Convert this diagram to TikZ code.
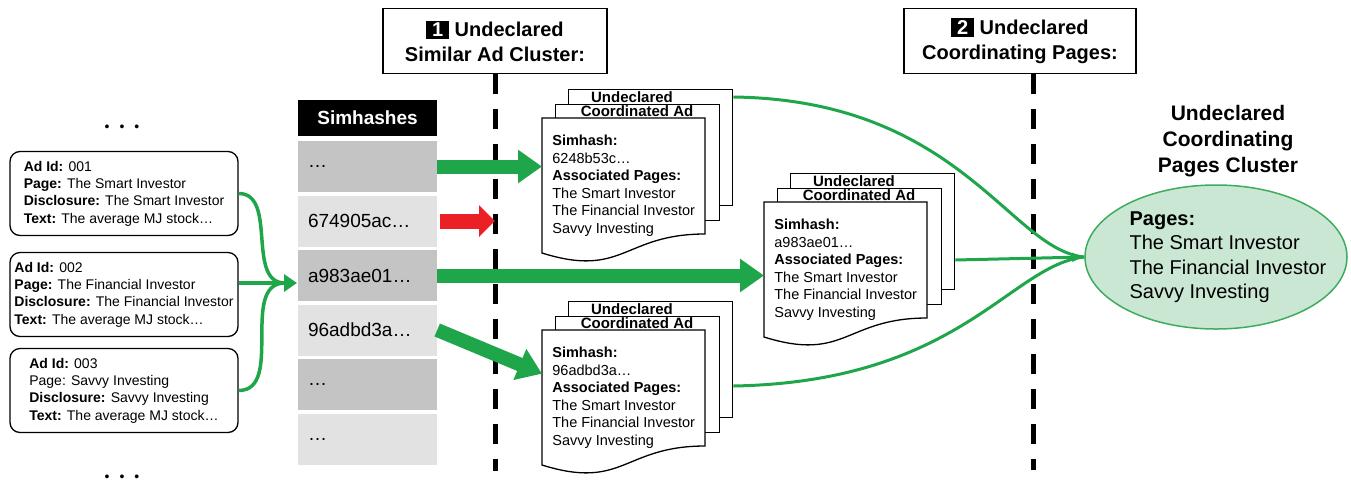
\documentclass[tikz,border=0pt]{standalone}
\usepackage{fontspec}
\setmainfont{Liberation Sans}
\usetikzlibrary{arrows.meta,shapes.geometric}
\definecolor{adgreen}{RGB}{31,166,74}
\definecolor{adred}{RGB}{235,32,38}
\definecolor{rowdark}{RGB}{196,196,196}
\definecolor{rowlight}{RGB}{226,226,226}
\definecolor{clusterfill}{RGB}{202,231,211}
\definecolor{clusterline}{RGB}{62,172,94}
\newcommand{\numbox}[1]{{\setlength{\fboxsep}{2.5pt}\colorbox{black}{\,\textcolor{white}{#1}\,}}}
\tikzset{
  adbox/.style={draw, line width=1.3pt, rounded corners=10pt, fill=white, minimum width=228pt, minimum height=84pt, align=left, font=\fontsize{14}{17.3}\selectfont},
  moredots/.style={font=\fontsize{14}{16}\selectfont},
  adlink/.style={draw=adgreen, line width=3.5pt},
  hashhead/.style={fill=black, text=white, minimum width=139pt, minimum height=36pt, font=\fontsize{19}{22}\selectfont\bfseries},
  hashrow/.style={minimum width=139pt, minimum height=51pt, text width=119pt, inner xsep=10pt, inner ysep=0pt, align=left, font=\fontsize{19}{22}\selectfont},
  titlebox/.style={draw, line width=1.2pt, fill=white, minimum width=224pt, minimum height=65pt, align=center, font=\fontsize{20}{24.5}\selectfont\bfseries},
  divider/.style={line width=5pt, dash pattern=on 20pt off 15pt},
  page/.style={draw, line width=1.3pt, fill=white, minimum width=164pt, minimum height=116pt, inner sep=0pt, anchor=north west},
  stacklabel/.style={inner sep=0pt, font=\fontsize{15}{17}\selectfont\bfseries},
  fronttext/.style={anchor=north west, minimum width=163pt, inner sep=0pt, minimum height=135pt, align=left, font=\fontsize{14.5}{17.5}\selectfont},
  hasharrow/.style={draw=adgreen, line width=14pt, -{Triangle[length=24pt,width=32pt]}},
  redarrow/.style={draw=adred, line width=15pt, -{Triangle[length=16pt,width=31pt]}},
  pglink/.style={draw=adgreen, line width=3pt},
  cluster/.style={ellipse, draw=clusterline, line width=1.5pt, fill=clusterfill, minimum width=262pt, minimum height=144pt, inner sep=0pt},
  clustertext/.style={align=left, font=\fontsize{20}{24.5}\selectfont},
  clusterlabel/.style={align=center, font=\fontsize{21}{26}\selectfont\bfseries}
}
\begin{document}
\begin{tikzpicture}[x=1pt,y=-1pt]
\useasboundingbox (0,0) rectangle (1351,483);

% ad records
\node[adbox] (ad1) at (124,193.5) {\textbf{Ad Id:} 001\\\textbf{Page:} The Smart Investor\\\textbf{Disclosure:} The Smart Investor\\\textbf{Text:} The average MJ stock…};
\node[adbox] (ad2) at (124,294.5) {\textbf{Ad Id:} 002\\\textbf{Page:} The Financial Investor\\\textbf{Disclosure:} The Financial Investor\\\textbf{Text:} The average MJ stock…};
\node[adbox] (ad3) at (124,390.5) {\textbf{Ad Id:} 003\\Page: Savvy Investing\\\textbf{Disclosure:} Savvy Investing\\\textbf{Text:} The average MJ stock…};
\node[moredots] (dotstop) at (122,128) {•\hspace{10pt}•\hspace{10pt}•};
\node[moredots] (dotsbot) at (122,478) {•\hspace{10pt}•\hspace{10pt}•};

% simhash table
\node[hashhead] (hhead) at (367.5,118) {Simhashes};
\foreach \i/\txt in {1/…,2/674905ac…,3/a983ae01…,4/96adbd3a…,5/…,6/…} {
  \pgfmathsetmacro\rowy{166.5+54.5*(\i-1)}
  \ifodd\i \def\rowcol{rowdark}\else \def\rowcol{rowlight}\fi
  \node[hashrow, fill=\rowcol] (h\i) at (367.5,\rowy) {\txt};
}

\coordinate (merge) at (297,283);
\draw[adlink] (ad1.east) to[out=0,in=180] ([xshift=-12pt]merge);
\draw[adlink] (ad3.east) to[out=0,in=180] ([xshift=-12pt]merge);
\draw[adlink, -{Triangle[length=13pt,width=17pt]}] (ad2.east |- merge) -- (merge);

% steps
\node[titlebox] (t1) at (495,41) {\numbox{1} Undeclared\\Similar Ad Cluster:};
\node[titlebox, minimum width=232pt] (t2) at (1020,41) {\numbox{2} Undeclared\\Coordinating Pages:};
\draw[divider] (t1.south) -- ++(0,397);
\draw[divider] ([xshift=13pt]t2.south) -- ++(0,396);

% coordinated ad stacks
\foreach \sx/\sy/\hash/\nm in {542/118/6248b53c/adA, 764/202/a983ae01/adB, 542/330/96adbd3a/adC} {
  \node[page] (\nm-back) at (\sx+26,\sy-29) {};
  \node[stacklabel] at (\sx+90,\sy-21) {Undeclared};
  \node[page] (\nm-mid) at (\sx+13,\sy-14.5) {};
  \node[stacklabel] at (\sx+95,\sy-7) {Coordinated Ad};
  \draw[line width=1.3pt, fill=white] (\sx,\sy) -- ++(163,0) -- ++(0,116)
    .. controls +(-81.5,0) and +(81.5,25.5) .. ++(-163,19) -- cycle;
  \node[fronttext] (\nm-front) at (\sx,\sy) {\textbf{Simhash:}\\\hash…\\\textbf{Associated Pages:}\\The Smart Investor\\The Financial Investor\\Savvy Investing};
}

\draw[hasharrow] (h1.east) -- (h1.east -| adA-front.west);
\draw[redarrow] ([xshift=3pt]h2.east) -- (h2.east -| t1.south);
\draw[hasharrow] (h3.east) -- (h3.east -| adB-front.west);
\draw[hasharrow] (h4.east) -- ([yshift=24pt]adC-front.west);

% pages cluster
\node[cluster] (pgcluster) at (1216,257) {};
\node[clustertext] (pglist) at (1228,257) {\textbf{Pages:}\\The Smart Investor\\The Financial Investor\\Savvy Investing};
\node[clusterlabel] (pglabel) at (1228,141) {Undeclared\\Coordinating\\Pages Cluster};

\draw[pglink] ([yshift=-8pt]adA-back.north east) .. controls (960,100) and (1010,250) .. (pgcluster.west);
\draw[pglink] ([yshift=-85pt]adC-back.north east) .. controls (960,382) and (1010,265) .. (pgcluster.west);
\draw[pglink, -{Latex[length=12pt,width=10pt]}] ([yshift=-87pt]adB-back.north east) -- (pgcluster.west);
\end{tikzpicture}
\end{document}
